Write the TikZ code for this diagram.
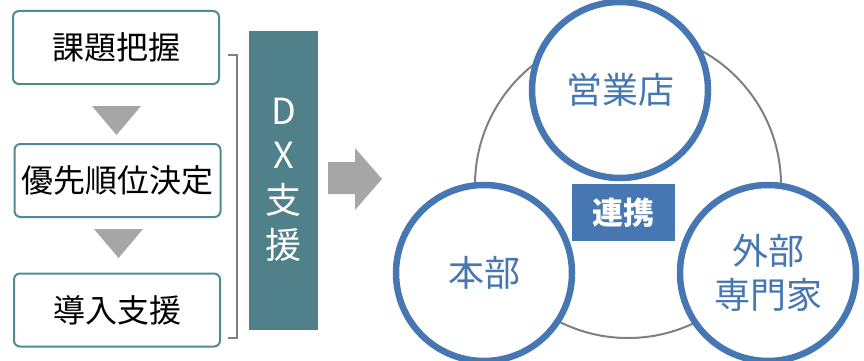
\documentclass[tikz,border=0pt]{standalone}
\usepackage{fontspec}
\setmainfont{Noto Sans CJK JP}
\newfontfamily\jpfont{Noto Sans CJK JP}
\usetikzlibrary{shapes.arrows}
\definecolor{tealline}{RGB}{80,138,146}
\definecolor{tealfill}{RGB}{80,129,138}
\definecolor{bluec}{RGB}{70,119,178}
\definecolor{grayarrow}{RGB}{166,166,166}
\definecolor{grayline}{RGB}{128,128,128}
\begin{document}
\begin{tikzpicture}[x=1pt,y=-1pt,
  stepbox/.style={draw=tealline,line width=2pt,rounded corners=6pt,fill=white,minimum width=206pt,minimum height=73pt,inner sep=0pt,font=\fontsize{32}{36}\selectfont\jpfont},
  tri/.style={fill=grayarrow,draw=none},
  party/.style={circle,draw=bluec,line width=6.5pt,fill=white,minimum size=176pt,inner sep=0pt,text=bluec,font=\fontsize{36}{44}\selectfont\jpfont,align=center},
  dxtext/.style={text=white,font=\fontsize{36}{44}\selectfont\jpfont},
]
\useasboundingbox (0,0) rectangle (864,361);
% left boxes
\node[stepbox] (b1) at (116,47.5) {課題把握};
\node[stepbox] (b2) at (117.5,180.5) {優先順位決定};
\node[stepbox] (b3) at (117,310) {導入支援};
% triangles
\fill[tri] (92,106) -- (141,106) -- (116.5,135) -- cycle;
\fill[tri] (94,229) -- (143,229) -- (118.5,258) -- cycle;
% bracket
\coordinate (bt) at (228,55);
\coordinate (bb) at (228,338);
\draw[grayline,line width=2.5pt] (bt) -- (237,55) -- (237,338) -- (bb);
% DX box
\node[fill=tealfill,minimum width=69pt,minimum height=299pt,inner sep=0pt] (dx) at (283.5,180.5) {};
\node[dxtext] (dxD) at (283.5,111) {D};
\node[dxtext] (dxX) at (283.5,155) {X};
\node[dxtext] (dxS) at (283.5,200) {支};
\node[dxtext] (dxE) at (283.5,245) {援};
% block arrow
\fill[grayarrow] (328,162) -- (355,162) -- (355,148) -- (382,179) -- (355,210) -- (355,194) -- (328,194) -- cycle;
% big gray circle
\node[circle,draw=grayline,line width=2pt,minimum size=306pt,inner sep=0pt] (ring) at (628,185) {};
% party circles
\node[party] (top) at (620,90) {営業店};
\node[party] (left) at (484,273) {本部};
\node[party] (right) at (768,273) {外部\\専門家};
% link label
\node[fill=bluec,text=white,minimum width=103pt,minimum height=57pt,inner sep=0pt,font=\fontsize{31}{34}\selectfont\jpfont\bfseries] (link) at (623.5,212.5) {連携};
\end{tikzpicture}
\end{document}
